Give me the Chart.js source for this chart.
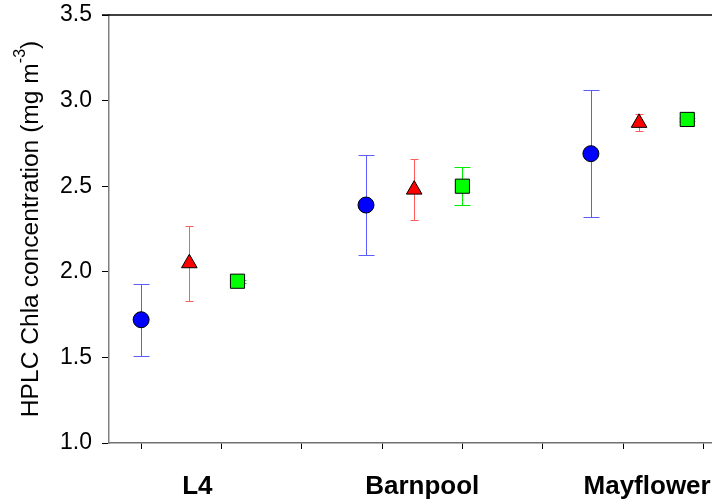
<!DOCTYPE html>
<html>
<head>
<meta charset="utf-8">
<script src="https://cdn.jsdelivr.net/npm/chart.js@4.4.1/dist/chart.umd.min.js"></script>
<style>
  html, body { margin: 0; padding: 0; background: #fff; }
</style>
</head>
<body>
<canvas id="hplcChart" width="712" height="503"></canvas>
<script>
// sites along the x axis
var sites = ['L4', 'Barnpool', 'Mayflower'];

// HPLC Chla, mean and +/- error for each of the three sets (mg m-3)
var circleMean = [1.72, 2.39, 2.69];
var circleErr = [0.21, 0.29, 0.37];
var triangleMean = [2.05, 2.48, 2.87];
var triangleErr = [0.22, 0.18, 0.05];
var squareMean = [1.945, 2.50, 2.89];
var squareErr = [0.01, 0.11, 0.01];

var yMin = 1.0, yMax = 3.5, yStep = 0.5;

// spacing of the groups on the linear x axis
var groupStep = 2.8;
var setStep = 0.6;
var labelOffset = 0.7;
var fontName = "'Liberation Sans', Arial, sans-serif";

function points(means, setIndex) {
     return means.map(function(v, i) {
          return { x: i * groupStep + setIndex * setStep, y: v };
     });
}

var errorBars = {
     id: 'errorBars',
     beforeDatasetsDraw: function(chart) {
          var ctx = chart.ctx;
          var xs = chart.scales.x, ys = chart.scales.y;
          chart.data.datasets.forEach(function(ds) {
               ctx.save();
               ctx.strokeStyle = ds.errColor;
               ctx.lineWidth = 1;
               ds.data.forEach(function(p, i) {
                    var px = Math.round(xs.getPixelForValue(p.x)) + 0.5;
                    var top = Math.round(ys.getPixelForValue(p.y + ds.errors[i])) + 0.5;
                    var bot = Math.round(ys.getPixelForValue(p.y - ds.errors[i])) + 0.5;
                    var hw = ds.capWidth / 2;
                    ctx.beginPath();
                    ctx.moveTo(px, top); ctx.lineTo(px, bot);
                    ctx.moveTo(px - hw, top); ctx.lineTo(px + hw, top);
                    ctx.moveTo(px - hw, bot); ctx.lineTo(px + hw, bot);
                    ctx.stroke();
               });
               ctx.restore();
          });
     },
     afterDraw: function(chart) {
          var ctx = chart.ctx, area = chart.chartArea;
          // top frame line
          ctx.save();
          ctx.strokeStyle = '#000';
          ctx.lineWidth = 1.5;
          ctx.beginPath();
          ctx.moveTo(area.left - 7, area.top);
          ctx.lineTo(chart.width, area.top);
          ctx.stroke();

          // y title with superscript
          var main = 'HPLC Chla concentration (mg m';
          var sup = '-3';
          var end = ')';
          ctx.fillStyle = '#000';
          ctx.textBaseline = 'middle';
          ctx.textAlign = 'left';
          ctx.font = '24.6px ' + fontName;
          var wMain = ctx.measureText(main).width;
          var wEnd = ctx.measureText(end).width;
          ctx.font = '16px ' + fontName;
          var wSup = ctx.measureText(sup).width;
          var total = wMain + wSup + wEnd;
          ctx.translate(31, (area.top + area.bottom) / 2);
          ctx.rotate(-Math.PI / 2);
          var sx = -total / 2;
          ctx.font = '24.6px ' + fontName;
          ctx.fillText(main, sx, 0);
          ctx.font = '16px ' + fontName;
          ctx.fillText(sup, sx + wMain, -10);
          ctx.font = '24.6px ' + fontName;
          ctx.fillText(end, sx + wMain + wSup, 0);
          ctx.restore();
     }
};

new Chart('hplcChart', {
     type: 'scatter',
     data: {
          datasets: [
               {
                    label: 'Set 1',
                    data: points(circleMean, 0),
                    errors: circleErr,
                    errColor: '#5c5cff',
                    capWidth: 16,
                    pointStyle: 'circle',
                    pointRadius: 8,
                    backgroundColor: '#0000ff',
                    borderColor: '#000',
                    borderWidth: 1
               },
               {
                    label: 'Set 2',
                    data: points(triangleMean, 1),
                    errors: triangleErr,
                    errColor: '#ff5c5c',
                    capWidth: 8,
                    pointStyle: 'triangle',
                    pointRadius: 9,
                    backgroundColor: '#ff0000',
                    borderColor: '#000',
                    borderWidth: 1
               },
               {
                    label: 'Set 3',
                    data: points(squareMean, 2),
                    errors: squareErr,
                    errColor: '#00ee00',
                    capWidth: 16,
                    pointStyle: 'rect',
                    pointRadius: 10,
                    backgroundColor: '#00ff00',
                    borderColor: '#000',
                    borderWidth: 1
               }
          ]
     },
     options: {
          responsive: false,
          animation: false,
          layout: {
               autoPadding: false,
               padding: { left: 60, top: 15, right: 0, bottom: 0 }
          },
          plugins: {
               legend: { display: false },
               tooltip: { enabled: false }
          },
          scales: {
               x: {
                    type: 'linear',
                    min: -0.4,
                    max: 7.108,
                    afterBuildTicks: function(axis) {
                         var t = [];
                         for (var k = 0; k <= 7; k++) t.push({ value: k });
                         sites.forEach(function(s, i) {
                              t.push({ value: i * groupStep + labelOffset, name: s });
                         });
                         t.sort(function(a, b) { return a.value - b.value; });
                         axis.ticks = t;
                    },
                    afterFit: function(axis) {
                         axis.height = 60;
                    },
                    ticks: {
                         autoSkip: false,
                         maxRotation: 0,
                         padding: 0,
                         color: '#000',
                         font: { family: fontName, size: 26, weight: 'bold', lineHeight: 2.9 },
                         callback: function(value, index, ticks) {
                              return ticks[index].name || '';
                         }
                    },
                    grid: {
                         drawOnChartArea: false,
                         tickLength: 6,
                         tickColor: function(c) {
                              return c.tick && c.tick.name ? 'rgba(0,0,0,0)' : '#000';
                         }
                    },
                    border: { color: '#707070', width: 1.5 }
               },
               y: {
                    min: yMin,
                    max: yMax,
                    afterFit: function(axis) {
                         axis.width = 49;
                         axis.paddingTop = 0;
                         axis.paddingBottom = 0;
                    },
                    ticks: {
                         stepSize: yStep,
                         padding: 10,
                         color: '#000',
                         font: { family: fontName, size: 23 },
                         callback: function(v) { return v.toFixed(1); }
                    },
                    grid: {
                         drawOnChartArea: false,
                         tickLength: 7,
                         tickColor: '#000'
                    },
                    border: { color: '#808080', width: 1.5 }
               }
          }
     },
     plugins: [errorBars]
});
</script>
</body>
</html>
